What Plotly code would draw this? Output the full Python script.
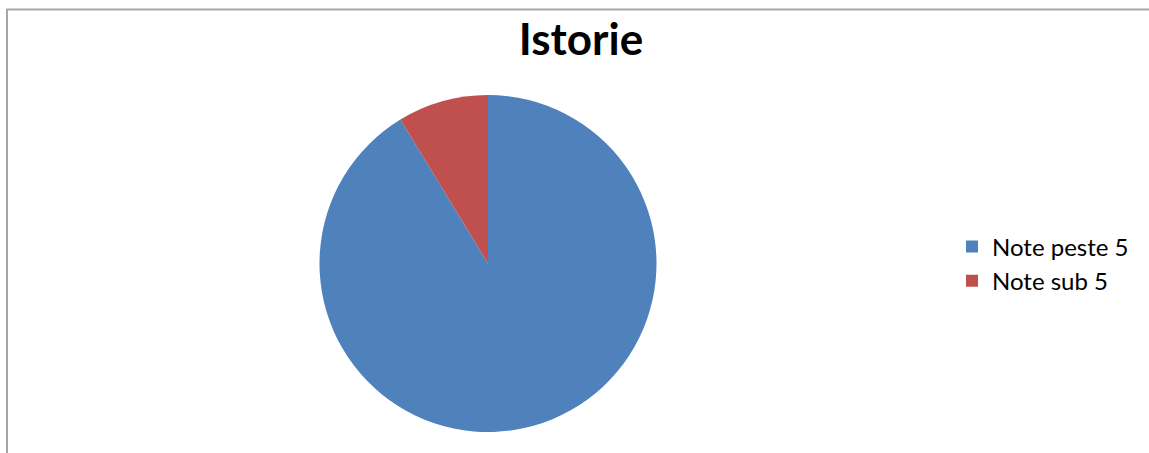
import plotly.graph_objects as go

labels = ["Note peste 5", "Note sub 5"]
values = [91.3, 8.7]
colors = ["#4F81BD", "#C0504D"]
title_text = "Istorie"

W, H = 1149, 453

fig = go.Figure(go.Pie(
    labels=labels,
    values=values,
    marker=dict(colors=colors, line=dict(width=0)),
    sort=False,
    direction="clockwise",
    rotation=0,
    textinfo="none",
    hoverinfo="label+percent",
    domain=dict(x=[319 / W, 657 / W], y=[(H - 432) / H, (H - 95) / H]),
))

fig.update_layout(
    width=W, height=H,
    margin=dict(l=0, r=0, t=0, b=0),
    paper_bgcolor="white",
    plot_bgcolor="white",
    title=dict(
        text=f"<b>{title_text}</b>",
        font=dict(family="Lato", size=44, color="#000000"),
        x=581 / W, xanchor="center",
        y=(H - 40) / H, yanchor="middle",
    ),
    legend=dict(
        x=952 / W, xanchor="left",
        y=(H - 264) / H, yanchor="middle",
        font=dict(family="Lato", size=24, color="#000000"),
        tracegroupgap=0,
        bgcolor="rgba(0,0,0,0)",
    ),
    shapes=[
        dict(type="line", xref="paper", yref="paper",
             x0=6.5 / W, x1=1.0, y0=(H - 9.5) / H, y1=(H - 9.5) / H,
             line=dict(color="#a6a6a6", width=2)),
        dict(type="line", xref="paper", yref="paper",
             x0=7 / W, x1=7 / W, y0=0, y1=(H - 9) / H,
             line=dict(color="#a6a6a6", width=2)),
    ],
)

fig.write_html("out.html", config={"displayModeBar": False},
               post_script="document.body.style.margin='0';")
